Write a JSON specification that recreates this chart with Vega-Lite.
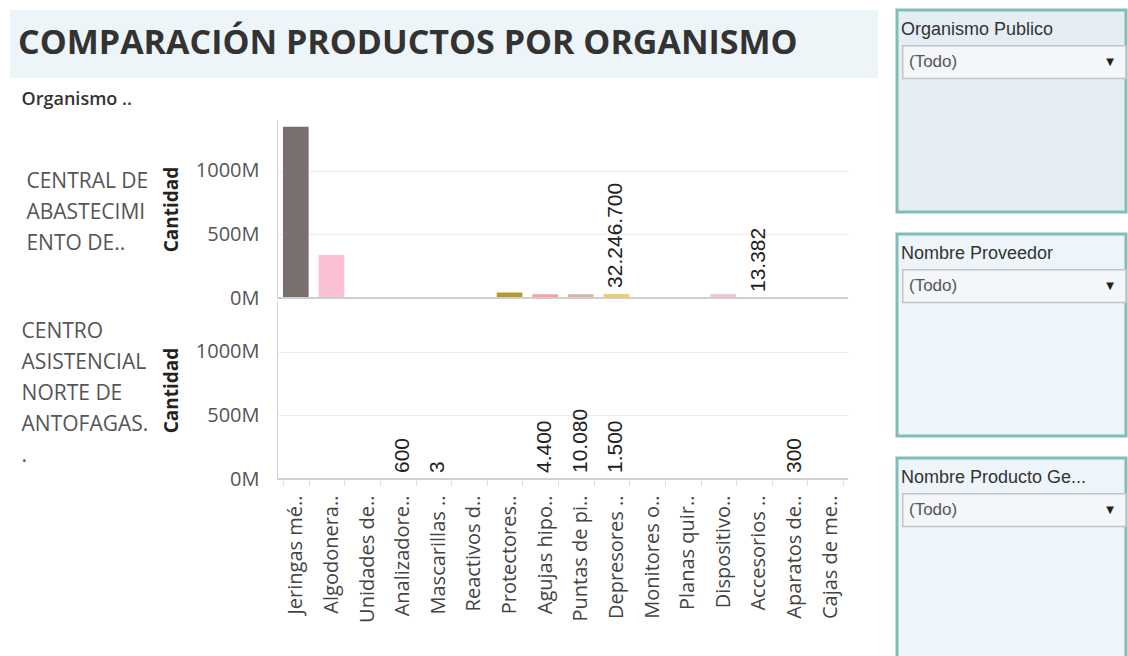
{
  "$schema": "https://vega.github.io/schema/vega-lite/v6.json",
  "background": "white",
  "padding": {"left": 10, "top": 8, "right": 0, "bottom": 0},
  "config": {
    "locale": {"number": {"decimal": ",", "thousands": ".", "grouping": [3], "currency": ["$", ""]}},
    "font": "Open Sans",
    "view": {"stroke": null}
  },
  "spacing": 17,
  "hconcat": [
    {
      "spacing": 13,
      "vconcat": [
        {
          "width": 868,
          "height": 68,
          "view": {"fill": "#eef5f9", "stroke": null},
          "data": {"values": [{"titulo": "COMPARACIÓN PRODUCTOS POR ORGANISMO"}]},
          "mark": {"type": "text", "align": "left", "baseline": "middle", "font": "Open Sans", "fontSize": 34, "fontWeight": "bold", "color": "#333333", "dx": 8},
          "encoding": {
            "text": {"field": "titulo"},
            "x": {"datum": 0, "type": "quantitative", "scale": {"domain": [0, 1]}, "axis": null},
            "y": {"datum": 0.5, "type": "quantitative", "scale": {"domain": [0, 1]}, "axis": null}
          }
        },
        {
          "spacing": 0,
          "hconcat": [
            {
              "width": 11,
              "height": 1,
              "data": {"values": []},
              "mark": {"type": "point"}
            },
            {
              "title": {"text": "Organismo ..", "anchor": "start", "frame": "bounds", "font": "Open Sans", "fontSize": 18, "fontWeight": 600, "color": "#333333", "offset": 0},
              "data": {"values": [
                {"organismo": "CENTRAL DE ABASTECIMIENTO DE..", "producto": "Jeringas mé..", "cantidad": 1346000000, "etiqueta": false},
                {"organismo": "CENTRAL DE ABASTECIMIENTO DE..", "producto": "Algodonera..", "cantidad": 339000000, "etiqueta": false},
                {"organismo": "CENTRAL DE ABASTECIMIENTO DE..", "producto": "Protectores..", "cantidad": 43000000, "etiqueta": false},
                {"organismo": "CENTRAL DE ABASTECIMIENTO DE..", "producto": "Agujas hipo..", "cantidad": 30000000, "etiqueta": false},
                {"organismo": "CENTRAL DE ABASTECIMIENTO DE..", "producto": "Puntas de pi..", "cantidad": 30000000, "etiqueta": false},
                {"organismo": "CENTRAL DE ABASTECIMIENTO DE..", "producto": "Depresores ..", "cantidad": 32246700, "etiqueta": true},
                {"organismo": "CENTRAL DE ABASTECIMIENTO DE..", "producto": "Dispositivo..", "cantidad": 30000000, "etiqueta": false},
                {"organismo": "CENTRAL DE ABASTECIMIENTO DE..", "producto": "Accesorios ..", "cantidad": 13382, "etiqueta": true},
                {"organismo": "CENTRO ASISTENCIAL NORTE DE ANTOFAGAS..", "producto": "Analizadore..", "cantidad": 600, "etiqueta": true},
                {"organismo": "CENTRO ASISTENCIAL NORTE DE ANTOFAGAS..", "producto": "Mascarillas ..", "cantidad": 3, "etiqueta": true},
                {"organismo": "CENTRO ASISTENCIAL NORTE DE ANTOFAGAS..", "producto": "Agujas hipo..", "cantidad": 4400, "etiqueta": true},
                {"organismo": "CENTRO ASISTENCIAL NORTE DE ANTOFAGAS..", "producto": "Puntas de pi..", "cantidad": 10080, "etiqueta": true},
                {"organismo": "CENTRO ASISTENCIAL NORTE DE ANTOFAGAS..", "producto": "Depresores ..", "cantidad": 1500, "etiqueta": true},
                {"organismo": "CENTRO ASISTENCIAL NORTE DE ANTOFAGAS..", "producto": "Aparatos de..", "cantidad": 300, "etiqueta": true}
              ]},
              "facet": {
                "row": {
                  "field": "organismo",
                  "type": "nominal",
                  "header": {
                    "title": null,
                    "labelAngle": 0,
                    "labelOrient": "left",
                    "labelAlign": "left",
                    "labelAnchor": "end",
                    "labelBaseline": "middle",
                    "labelExpr": "datum.value == 'CENTRAL DE ABASTECIMIENTO DE..' ? ['\u200b', '\u200b', 'CENTRAL DE', 'ABASTECIMI', 'ENTO DE..'] : ['\u200b', 'CENTRO', 'ASISTENCIAL', 'NORTE DE', 'ANTOFAGAS.', '.']",
                    "labelFont": "Open Sans",
                    "labelFontSize": 21,
                    "labelColor": "#555555",
                    "labelLineHeight": 31,
                    "labelPadding": 14,
                    "labelLimit": 220
                  }
                }
              },
              "spacing": {"row": 2},
              "spec": {
                "width": 570,
                "height": 178,
                "layer": [
                  {
                    "mark": {"type": "bar"},
                    "encoding": {
                      "x": {
                        "field": "producto", "type": "nominal",
                        "scale": {"domain": ["Jeringas mé..", "Algodonera..", "Unidades de..", "Analizadore..", "Mascarillas ..", "Reactivos d..", "Protectores..", "Agujas hipo..", "Puntas de pi..", "Depresores ..", "Monitores o..", "Planas quir..", "Dispositivo..", "Accesorios ..", "Aparatos de..", "Cajas de me.."], "paddingInner": 0.28, "paddingOuter": 0.14},
                        "axis": {"title": null, "labelAngle": -90, "labelAlign": "right", "labelBaseline": "middle", "labelFont": "Open Sans", "labelFontSize": 20, "labelColor": "#444444", "labelPadding": 10, "labelLimit": 200, "ticks": true, "tickBand": "extent", "tickColor": "#dddddd", "tickSize": 5, "domain": false}
                      },
                      "y": {
                        "field": "cantidad", "type": "quantitative",
                        "scale": {"domain": [0, 1400000000], "nice": false},
                        "axis": {"title": "Cantidad", "titleFont": "Open Sans", "titleFontSize": 19, "titleFontWeight": "bold", "titleColor": "#222222", "titlePadding": 14, "values": [0, 500000000, 1000000000], "labelExpr": "format(datum.value / 1000000, 'd') + 'M'", "labelFont": "Open Sans", "labelFontSize": 20, "labelColor": "#555555", "labelPadding": 18, "ticks": false, "domain": true, "domainColor": "#d0d0d0", "grid": true, "gridColor": "#ececec"}
                      },
                      "color": {
                        "field": "producto", "type": "nominal", "legend": null,
                        "scale": {
                          "domain": ["Jeringas mé..", "Algodonera..", "Unidades de..", "Analizadore..", "Mascarillas ..", "Reactivos d..", "Protectores..", "Agujas hipo..", "Puntas de pi..", "Depresores ..", "Monitores o..", "Planas quir..", "Dispositivo..", "Accesorios ..", "Aparatos de..", "Cajas de me.."],
                          "range": ["#79706e", "#fabfd2", "#4e79a7", "#a0cbe8", "#f28e2b", "#ffbe7d", "#b6992d", "#ff9d9a", "#d7b5a6", "#f1ce63", "#59a14f", "#8cd17d", "#f9bdd0", "#d4a6c8", "#499894", "#86bcb6"]
                        }
                      }
                    }
                  },
                  {
                    "transform": [{"filter": "datum.etiqueta"}],
                    "mark": {"type": "text", "angle": 270, "align": "left", "baseline": "middle", "dx": 6, "font": "Liberation Sans", "fontSize": 21, "color": "#222222"},
                    "encoding": {
                      "x": {"field": "producto", "type": "nominal"},
                      "y": {"field": "cantidad", "type": "quantitative"},
                      "text": {"field": "cantidad", "type": "quantitative", "format": ",d"}
                    }
                  },
                  {
                    "mark": {"type": "rule", "color": "#cfcfcf", "strokeWidth": 1.5},
                    "encoding": {"y": {"datum": 0}}
                  }
                ]
              }
            }
          ]
        }
      ]
    },
    {
      "spacing": 18,
      "vconcat": [
        {
          "width": 229, "height": 202,
          "view": {"fill": "#e6eef5", "stroke": "#7ebfb5", "strokeWidth": 3},
          "data": {"values": [{"filtro": "Organismo Publico", "valor": "(Todo)"}]},
          "encoding": {
            "x": {"datum": 0, "type": "quantitative", "scale": {"domain": [0, 1]}, "axis": null},
            "y": {"datum": "titulo", "type": "nominal", "scale": {"type": "band", "domain": ["titulo", "control", "a", "b", "c", "d"], "paddingInner": 0, "paddingOuter": 0.1}, "axis": null}
          },
          "layer": [
            {"mark": {"type": "bar", "fill": "#f3f7fa", "stroke": "#c4c4c4", "strokeWidth": 1.5},
             "encoding": {"x": {"datum": 0.025, "type": "quantitative"}, "x2": {"datum": 1}, "y": {"datum": "control", "type": "nominal"}}},
            {"mark": {"type": "text", "align": "left", "baseline": "middle", "dx": 4, "font": "Liberation Sans", "fontSize": 18, "color": "#333333"},
             "encoding": {"text": {"field": "filtro"}}},
            {"mark": {"type": "text", "align": "left", "baseline": "middle", "dx": 12, "font": "Liberation Sans", "fontSize": 17, "color": "#555555"},
             "encoding": {"y": {"datum": "control", "type": "nominal"}, "text": {"field": "valor"}}},
            {"mark": {"type": "text", "align": "center", "baseline": "middle", "dx": -16, "font": "DejaVu Sans", "fontSize": 10, "color": "#222222", "text": "▼"},
             "encoding": {"x": {"datum": 1, "type": "quantitative"}, "y": {"datum": "control", "type": "nominal"}}}
          ]
        },
        {
          "width": 229, "height": 202,
          "view": {"fill": "#eef5fa", "stroke": "#7ebfb5", "strokeWidth": 3},
          "data": {"values": [{"filtro": "Nombre Proveedor", "valor": "(Todo)"}]},
          "encoding": {
            "x": {"datum": 0, "type": "quantitative", "scale": {"domain": [0, 1]}, "axis": null},
            "y": {"datum": "titulo", "type": "nominal", "scale": {"type": "band", "domain": ["titulo", "control", "a", "b", "c", "d"], "paddingInner": 0, "paddingOuter": 0.1}, "axis": null}
          },
          "layer": [
            {"mark": {"type": "bar", "fill": "#f3f7fa", "stroke": "#c4c4c4", "strokeWidth": 1.5},
             "encoding": {"x": {"datum": 0.025, "type": "quantitative"}, "x2": {"datum": 1}, "y": {"datum": "control", "type": "nominal"}}},
            {"mark": {"type": "text", "align": "left", "baseline": "middle", "dx": 4, "font": "Liberation Sans", "fontSize": 18, "color": "#333333"},
             "encoding": {"text": {"field": "filtro"}}},
            {"mark": {"type": "text", "align": "left", "baseline": "middle", "dx": 12, "font": "Liberation Sans", "fontSize": 17, "color": "#555555"},
             "encoding": {"y": {"datum": "control", "type": "nominal"}, "text": {"field": "valor"}}},
            {"mark": {"type": "text", "align": "center", "baseline": "middle", "dx": -16, "font": "DejaVu Sans", "fontSize": 10, "color": "#222222", "text": "▼"},
             "encoding": {"x": {"datum": 1, "type": "quantitative"}, "y": {"datum": "control", "type": "nominal"}}}
          ]
        },
        {
          "width": 229, "height": 202,
          "view": {"fill": "#eef5fa", "stroke": "#7ebfb5", "strokeWidth": 3},
          "data": {"values": [{"filtro": "Nombre Producto Ge...", "valor": "(Todo)"}]},
          "encoding": {
            "x": {"datum": 0, "type": "quantitative", "scale": {"domain": [0, 1]}, "axis": null},
            "y": {"datum": "titulo", "type": "nominal", "scale": {"type": "band", "domain": ["titulo", "control", "a", "b", "c", "d"], "paddingInner": 0, "paddingOuter": 0.1}, "axis": null}
          },
          "layer": [
            {"mark": {"type": "bar", "fill": "#f3f7fa", "stroke": "#c4c4c4", "strokeWidth": 1.5},
             "encoding": {"x": {"datum": 0.025, "type": "quantitative"}, "x2": {"datum": 1}, "y": {"datum": "control", "type": "nominal"}}},
            {"mark": {"type": "text", "align": "left", "baseline": "middle", "dx": 4, "font": "Liberation Sans", "fontSize": 18, "color": "#333333"},
             "encoding": {"text": {"field": "filtro"}}},
            {"mark": {"type": "text", "align": "left", "baseline": "middle", "dx": 12, "font": "Liberation Sans", "fontSize": 17, "color": "#555555"},
             "encoding": {"y": {"datum": "control", "type": "nominal"}, "text": {"field": "valor"}}},
            {"mark": {"type": "text", "align": "center", "baseline": "middle", "dx": -16, "font": "DejaVu Sans", "fontSize": 10, "color": "#222222", "text": "▼"},
             "encoding": {"x": {"datum": 1, "type": "quantitative"}, "y": {"datum": "control", "type": "nominal"}}}
          ]
        }
      ]
    }
  ]
}
